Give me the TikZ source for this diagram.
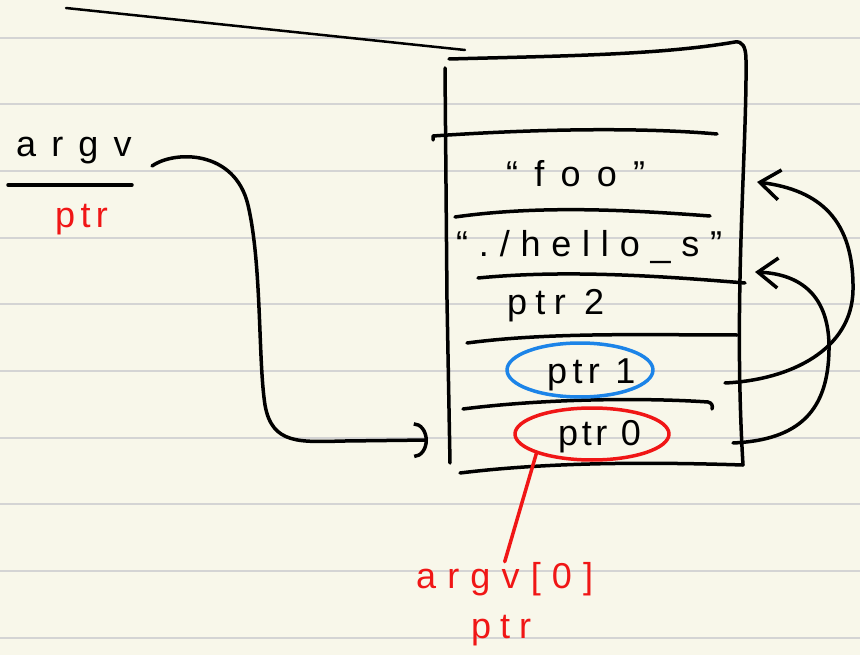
\documentclass[tikz,border=0pt]{standalone}
\usepackage{fontspec}
\setmainfont{Liberation Sans}
\usetikzlibrary{arrows.meta, shapes.geometric}
\definecolor{paper}{RGB}{248,247,234}
\definecolor{rulegray}{RGB}{212,212,212}
\definecolor{penred}{RGB}{240,22,22}
\definecolor{penblue}{RGB}{28,132,232}

\tikzset{
  ink/.style={line width=3.5pt, line cap=round, line join=round},
  hand/.style={font=\fontsize{36}{42}\selectfont\addfontfeatures{LetterSpace=#1},
    inner sep=0pt, anchor=base west},
  hand/.default=20,
  barb/.style={-{Straight Barb[length=20pt,width=30pt]}},
  arcbarb/.style={-{Arc Barb[length=14pt,width=36pt]}}
}

\begin{document}
\begin{tikzpicture}[x=1pt,y=-1pt]
\useasboundingbox (0,0) rectangle (860,655);
\fill[paper] (0,0) rectangle (860,655);
\foreach \y in {37.7,104.3,171,237.7,304.3,371,437.7,504.3,571,637.7}
  \draw[rulegray, line width=2pt] (0,\y) -- (860,\y);

% top stroke
\draw[ink, line width=2.5pt] (66,8) -- (465,50);

% the box
\draw[ink] (449,59) .. controls (560,56) and (660,55) .. (735,42)
  .. controls (742,41) and (746,46) .. (746,60)
  .. controls (747,150) and (733,300) .. (743,465);
\draw[ink] (445,68) -- (447,300) -- (450,463);
\draw[ink] (460,473) .. controls (550,462) and (650,462) .. (743,465);
\draw[ink] (433,140) -- (433,136) .. controls (550,128) and (650,128) .. (717,134);
\draw[ink] (455,217) .. controls (540,205) and (630,210) .. (710,216);
\draw[ink] (478,278) .. controls (560,270) and (650,275) .. (745,283);
\draw[ink] (467,343) .. controls (550,332) and (650,335) .. (737,335);
\draw[ink] (463,409) .. controls (550,398) and (650,398) .. (708,402)
  .. controls (712,403) and (713,406) .. (712,409);

% rows
\node[hand=45] (foo) at (506,187) {“foo”};
\node[hand=30] (hello) at (456,257) {“./hello\_s”};
\node[hand=23] (p2) at (507,315) {ptr 2};
\node[hand=15] (p1) at (547,383) {ptr 1};
\node[hand=10] (p0) at (558,445) {ptr 0};
\node[ellipse, draw=penblue, ink, minimum width=146pt, minimum height=54pt] (e1) at (580,370) {};
\node[ellipse, draw=penred, ink, minimum width=154pt, minimum height=52pt] (e0) at (592,434) {};

% argv
\node[hand=42] (argv) at (16,157) {argv};
\draw[ink] (8,185) -- (132,185);
\node[hand=15, text=penred] (argvptr) at (55,228) {ptr};
\coordinate (a0) at (152,166);
\coordinate (a1) at (428,440);
\draw[ink, arcbarb] (a0) .. controls (175,150) and (235,150) .. (248,205)
  .. controls (262,265) and (258,360) .. (265,405)
  .. controls (272,445) and (300,442) .. (345,441) -- (a1);

% pointers back into the strings
\coordinate (r1) at (725,383);
\coordinate (t1) at (757,182);
\draw[ink, barb] (r1) .. controls (790,380) and (852,350) .. (853,290)
  .. controls (854,220) and (820,190) .. (t1);
\coordinate (r0) at (733,443);
\coordinate (t0) at (755,272);
\draw[ink, barb] (r0) .. controls (800,440) and (828,410) .. (829,350)
  .. controls (830,295) and (800,274) .. (t0);

% argv[0]
\node[hand=31, text=penred] (argv0) at (416,588) {argv[0]};
\node[hand=25, text=penred] (argv0ptr) at (471,638) {ptr};
\draw[ink, penred] (e0.south west) -- (argv0.north);
\end{tikzpicture}
\end{document}
